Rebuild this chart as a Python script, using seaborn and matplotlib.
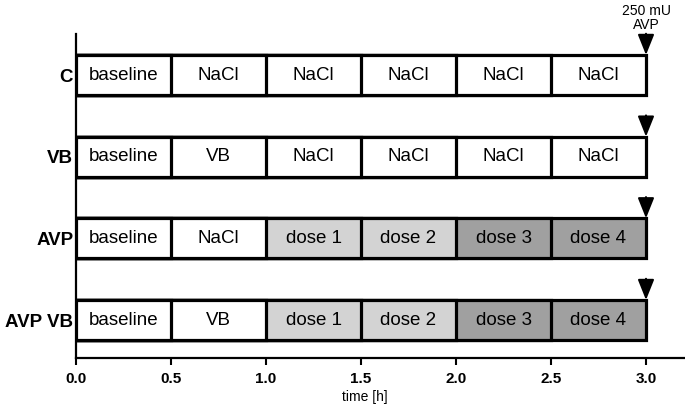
import matplotlib
matplotlib.use("Agg")
import matplotlib.pyplot as plt
import seaborn as sns
import pandas as pd

# ---- data ----
rows = ["C", "VB", "AVP", "AVP VB"]
time_edges = [0.0, 0.5, 1.0, 1.5, 2.0, 2.5, 3.0]
row_segments = {
    "C": ["baseline", "NaCl", "NaCl", "NaCl", "NaCl", "NaCl"],
    "VB": ["baseline", "VB", "NaCl", "NaCl", "NaCl", "NaCl"],
    "AVP": ["baseline", "NaCl", "dose 1", "dose 2", "dose 3", "dose 4"],
    "AVP VB": ["baseline", "VB", "dose 1", "dose 2", "dose 3", "dose 4"],
}
tick_values = [0.0, 0.5, 1.0, 1.5, 2.0, 2.5, 3.0]
tick_labels = ["0.0", "0.5", "1.0", "1.5", "2.0", "2.5", "3.0"]
injection_time = 3.0
injection_label = "250 mU\nAVP"
x_label = "time [h]"

# ---- style ----
shade = {"dose 1": "#d3d3d3", "dose 2": "#d3d3d3",
         "dose 3": "#a0a0a0", "dose 4": "#a0a0a0"}

sns.set_style("ticks")
plt.rcParams["font.family"] = ["Liberation Sans", "DejaVu Sans"]
plt.rcParams["text.color"] = "black"
plt.rcParams["xtick.color"] = "black"
plt.rcParams["ytick.color"] = "black"
plt.rcParams["axes.labelcolor"] = "black"

fig = plt.figure(figsize=(6.85, 4.08), dpi=100)
ax = fig.add_axes([76 / 685, 1 - 358 / 408, 608 / 685, 324 / 408])

n_seg = len(time_edges) - 1
for k in reversed(range(n_seg)):
    df = pd.DataFrame({
        "row": rows,
        "end": [time_edges[k + 1]] * len(rows),
    })
    pal = {r: shade.get(row_segments[r][k], "white") for r in rows}
    sns.barplot(data=df, x="end", y="row", hue="row", palette=pal,
                order=rows, hue_order=rows, orient="h", width=0.49,
                edgecolor="black", linewidth=2.3, legend=False, ax=ax,
                saturation=1)

for i, r in enumerate(rows):
    for k, lab in enumerate(row_segments[r]):
        cx = (time_edges[k] + time_edges[k + 1]) / 2
        ax.text(cx, i, lab, ha="center", va="center", fontsize=13.5,
                color="black")

ax.set_xlim(0, 3.2)
ax.set_ylim(3.465, -0.502)

# arrows
for i, r in enumerate(rows):
    tip = i - 0.245
    ax.annotate("", xy=(injection_time, tip), xytext=(injection_time, tip - 0.26),
                arrowprops=dict(arrowstyle="-|>,head_length=1.25,head_width=0.5",
                                color="black", lw=1.5, shrinkA=0, shrinkB=0),
                annotation_clip=False)
ax.text(injection_time, -0.70, injection_label, ha="center", va="center",
        fontsize=10, linespacing=1.0, clip_on=False, color="black")

ax.set_xticks(tick_values)
ax.set_xticklabels(tick_labels, fontsize=11, fontweight="bold")
ax.set_yticks(range(len(rows)))
ax.set_yticklabels(rows, fontsize=13.5, fontweight="bold")
ax.tick_params(axis="y", length=0, pad=2, colors="black")
ax.tick_params(axis="x", length=5, width=1.5, direction="out", pad=5,
               colors="black")
ax.set_ylabel("")
ax.set_xlabel(x_label, fontsize=10, color="black")
ax.xaxis.set_label_coords(0.475, -0.10)

sns.despine(ax=ax, top=True, right=True)
for s in ["left", "bottom"]:
    ax.spines[s].set_linewidth(1.6)
    ax.spines[s].set_color("black")

fig.savefig("out.png", dpi=100)
